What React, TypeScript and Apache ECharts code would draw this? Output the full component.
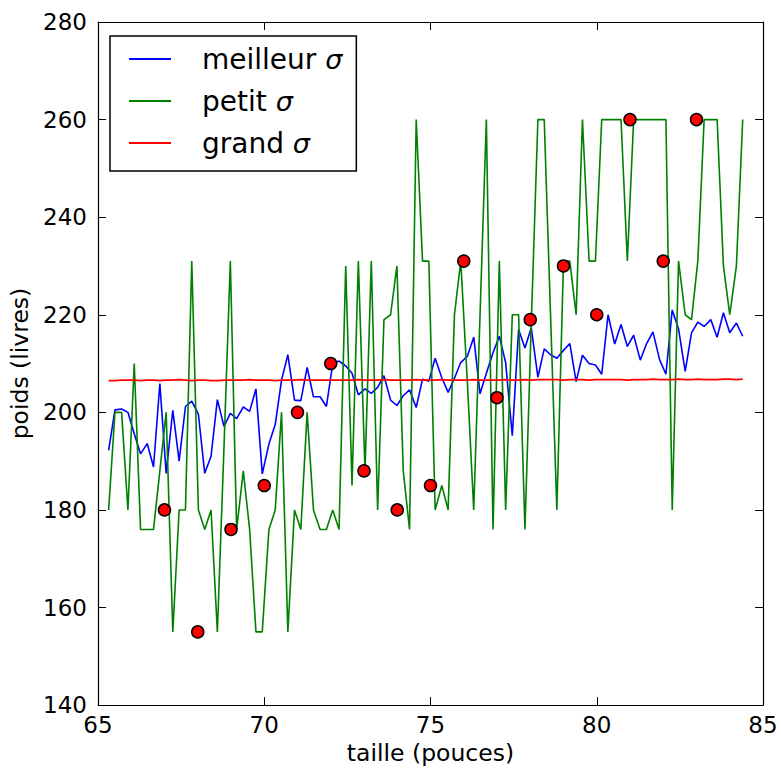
import React, { useEffect, useRef } from "react";
import * as echarts from "echarts";

const gridX = [
  65.32, 65.51, 65.71, 65.9, 66.09, 66.28, 66.48, 66.67, 66.86, 67.05,
  67.25, 67.44, 67.63, 67.82, 68.02, 68.21, 68.4, 68.59, 68.79, 68.98,
  69.17, 69.37, 69.56, 69.75, 69.94, 70.14, 70.33, 70.52, 70.71, 70.91,
  71.1, 71.29, 71.48, 71.68, 71.87, 72.06, 72.25, 72.45, 72.64, 72.83,
  73.03, 73.22, 73.41, 73.6, 73.8, 73.99, 74.18, 74.37, 74.57, 74.76,
  74.95, 75.14, 75.34, 75.53, 75.72, 75.91, 76.11, 76.3, 76.49, 76.68,
  76.88, 77.07, 77.26, 77.46, 77.65, 77.84, 78.03, 78.23, 78.42, 78.61,
  78.8, 79.0, 79.19, 79.38, 79.57, 79.77, 79.96, 80.15, 80.34, 80.54,
  80.73, 80.92, 81.11, 81.31, 81.5, 81.69, 81.89, 82.08, 82.27, 82.46,
  82.66, 82.85, 83.04, 83.23, 83.43, 83.62, 83.81, 84.0, 84.2, 84.39,
];

const bestSigma = [
  192.2, 200.5, 200.7, 200.0, 195.6, 191.5, 193.6, 188.8, 205.9, 187.5,
  200.4, 190.0, 201.2, 202.3, 199.6, 187.5, 191.0, 202.6, 197.1, 199.8,
  198.7, 201.1, 200.2, 204.8, 187.4, 193.5, 197.5, 206.6, 211.8, 202.5,
  202.4, 209.2, 203.2, 203.2, 201.2, 210.0, 210.5, 209.5, 208.0, 203.6,
  204.8, 203.9, 205.1, 207.5, 202.5, 201.4, 203.4, 204.6, 201.0, 206.8,
  206.4, 211.1, 207.1, 204.1, 207.0, 210.2, 211.5, 215.4, 203.8, 208.0,
  212.2, 215.6, 210.2, 195.2, 217.0, 213.2, 217.3, 207.2, 213.0, 211.8,
  211.1, 212.7, 214.1, 206.3, 211.7, 210.0, 209.7, 207.8, 220.0, 214.0,
  218.0, 213.5, 215.8, 210.7, 214.1, 216.5, 210.8, 207.8, 221.0, 217.1,
  208.4, 216.3, 218.5, 217.6, 219.0, 215.4, 220.4, 216.3, 218.3, 215.6,
];

const smallSigma = [
  180, 200, 200, 180, 210, 176, 176, 176, 188, 200,
  155, 180, 180, 231, 180, 176, 180, 155, 193, 231,
  176, 188, 176, 155, 155, 176, 180, 200, 155, 180,
  176, 200, 180, 176, 176, 180, 176, 230, 185, 231,
  188, 231, 180, 219, 220, 230, 188, 176, 260, 231,
  231, 180, 185, 180, 220, 231, 206, 180, 220, 260,
  176, 231, 180, 220, 220, 176, 218, 260, 260, 220,
  180, 231, 231, 220, 260, 231, 231, 260, 260, 260,
  260, 231, 260, 260, 260, 260, 260, 260, 180, 231,
  220, 219, 231, 260, 260, 260, 230, 220, 230, 260,
];

const largeSigma = [
  206.5, 206.5, 206.6, 206.6, 206.6, 206.5, 206.6, 206.6, 206.5, 206.6,
  206.6, 206.7, 206.6, 206.5, 206.6, 206.6, 206.5, 206.5, 206.6, 206.6,
  206.6, 206.6, 206.7, 206.6, 206.6, 206.6, 206.5, 206.6, 206.6, 206.6,
  206.7, 206.6, 206.6, 206.6, 206.6, 206.6, 206.6, 206.6, 206.6, 206.7,
  206.6, 206.6, 206.6, 206.7, 206.6, 206.6, 206.6, 206.6, 206.7, 206.6,
  206.6, 206.6, 206.7, 206.6, 206.6, 206.6, 206.6, 206.7, 206.6, 206.6,
  206.6, 206.6, 206.7, 206.6, 206.6, 206.7, 206.6, 206.7, 206.7, 206.7,
  206.7, 206.6, 206.7, 206.7, 206.7, 206.6, 206.7, 206.7, 206.7, 206.7,
  206.7, 206.6, 206.7, 206.7, 206.7, 206.8, 206.7, 206.7, 206.7, 206.8,
  206.7, 206.7, 206.8, 206.7, 206.7, 206.7, 206.8, 206.8, 206.7, 206.8,
];

const pointX = [67, 68, 69, 70, 71, 72, 73, 74, 75, 76, 77, 78, 79, 80, 81, 82, 83];
const pointY = [180, 155, 176, 185, 200, 210, 188, 180, 185, 231, 203, 219, 230, 220, 260, 231, 260];

const seriesNames = ["meilleur σ", "petit σ", "grand σ"];
const seriesColors = ["#0000ff", "#008000", "#ff0000"];
const xTicks = { min: 65, max: 85, interval: 5 };
const yTicks = { min: 140, max: 280, interval: 20 };
const xTitle = "taille (pouces)";
const yTitle = "poids (livres)";

const FONT = "DejaVu Sans";

export default function App() {
  const ref = useRef<HTMLDivElement>(null);

  useEffect(() => {
    if (!ref.current) return;
    const chart = echarts.init(ref.current, undefined, { renderer: "svg" });
    const zip = (xs: number[], ys: number[]) => xs.map((x, i) => [x, ys[i]]);

    const tickStyle = { show: true, inside: true, length: 8, lineStyle: { color: "#000", width: 1 } };
    const lineStyleAxis = { show: true, onZero: false, lineStyle: { color: "#000", width: 1.2 } };

    chart.setOption({
      animation: false,
      backgroundColor: "#fff",
      grid: { left: 98, right: 18, top: 22, bottom: 60, containLabel: false },
      xAxis: [
        {
          type: "value",
          ...xTicks,
          position: "bottom",
          axisLine: lineStyleAxis,
          axisTick: tickStyle,
          splitLine: { show: false },
          axisLabel: { color: "#000", fontSize: 23, fontFamily: FONT, margin: 8 },
          name: xTitle,
          nameLocation: "middle",
          nameGap: 34,
          nameTextStyle: { color: "#000", fontSize: 23.5, fontFamily: FONT },
        },
        {
          type: "value",
          ...xTicks,
          position: "top",
          axisLine: lineStyleAxis,
          axisTick: tickStyle,
          splitLine: { show: false },
          axisLabel: { show: false },
        },
      ],
      yAxis: [
        {
          type: "value",
          ...yTicks,
          position: "left",
          axisLine: lineStyleAxis,
          axisTick: tickStyle,
          splitLine: { show: false },
          axisLabel: { color: "#000", fontSize: 23, fontFamily: FONT, margin: 11 },
          name: yTitle,
          nameLocation: "middle",
          nameGap: 64,
          nameTextStyle: { color: "#000", fontSize: 23.5, fontFamily: FONT },
        },
        {
          type: "value",
          ...yTicks,
          position: "right",
          axisLine: lineStyleAxis,
          axisTick: tickStyle,
          splitLine: { show: false },
          axisLabel: { show: false },
        },
      ],
      legend: {
        show: true,
        orient: "vertical",
        left: 110,
        top: 36,
        data: seriesNames.map((n) => ({ name: n, icon: "rect" })),
        itemWidth: 42,
        itemHeight: 2,
        itemGap: 12,
        padding: [8, 14, 13, 19],
        borderColor: "#000",
        borderWidth: 1.5,
        backgroundColor: "#fff",
        formatter: (name: string) => `{t|${name.slice(0, -2)}} {s|σ}`,
        textStyle: {
          color: "#000",
          fontSize: 28,
          fontFamily: FONT,
          padding: [0, 0, 0, 26],
          lineHeight: 30,
          rich: {
            t: { fontSize: 28, fontFamily: FONT, color: "#000", lineHeight: 30 },
            s: { fontSize: 27, fontFamily: FONT, fontStyle: "italic", color: "#000", lineHeight: 30 },
          },
        },
      },
      series: [
        {
          name: seriesNames[0],
          type: "line",
          data: zip(gridX, bestSigma),
          symbol: "none",
          lineStyle: { color: seriesColors[0], width: 1.6 },
          itemStyle: { color: seriesColors[0] },
        },
        {
          name: seriesNames[1],
          type: "line",
          data: zip(gridX, smallSigma),
          symbol: "none",
          lineStyle: { color: seriesColors[1], width: 1.6 },
          itemStyle: { color: seriesColors[1] },
        },
        {
          name: seriesNames[2],
          type: "line",
          data: zip(gridX, largeSigma),
          symbol: "none",
          lineStyle: { color: seriesColors[2], width: 1.6 },
          itemStyle: { color: seriesColors[2] },
        },
        {
          name: "données",
          type: "scatter",
          data: zip(pointX, pointY),
          symbol: "circle",
          symbolSize: 12,
          itemStyle: { color: "#ff0000", borderColor: "#000", borderWidth: 1.5, opacity: 1 },
          z: 5,
        },
      ],
    });
    return () => chart.dispose();
  }, []);

  return (
    <div
      ref={ref}
      style={{ position: "fixed", left: 0, top: 0, width: 781, height: 770, background: "#fff" }}
    />
  );
}
